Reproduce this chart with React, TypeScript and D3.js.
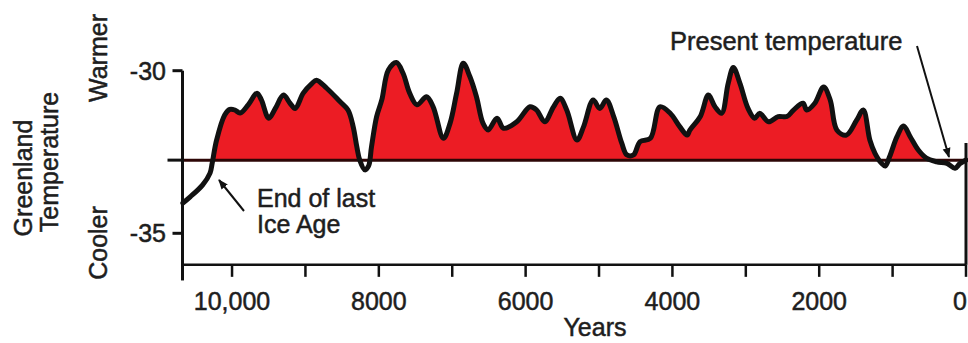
import React from "react";
import * as d3 from "d3";

// Years before present and Greenland temperature (°C)
const years = [
  10670, 10570, 10400, 10300, 10270, 10210, 10100, 10030, 9960, 9890,
  9780, 9660, 9600, 9500, 9410, 9300, 9210, 9140, 9030, 8910,
  8850, 8710, 8530, 8420, 8350, 8300, 8260, 8190, 8140, 8100,
  8030, 7960, 7870, 7760, 7670, 7580, 7480, 7350, 7260, 7120,
  7030, 6940, 6850, 6760, 6670, 6580, 6510, 6390, 6300, 6120,
  5940, 5850, 5740, 5620, 5530, 5440, 5300, 5210, 5080, 4990,
  4900, 4800, 4690, 4620, 4530, 4440, 4300, 4170, 4030, 3900,
  3800, 3760, 3620, 3510, 3420, 3330, 3240, 3170, 3080, 2970,
  2880, 2810, 2690, 2560, 2440, 2350, 2220, 2170, 2060, 1940,
  1850, 1760, 1630, 1490, 1400, 1310, 1240, 1150, 1100, 1040,
  940, 850, 760, 650, 540, 400, 260, 150, 80, 0,
];
const temps = [
  -34.07, -33.88, -33.51, -33.15, -32.84, -32.13, -31.36, -31.19, -31.21, -31.3,
  -31.05, -30.69, -30.9, -31.46, -31.16, -30.75, -31.0, -31.16, -30.69, -30.39,
  -30.29, -30.54, -30.95, -31.21, -31.72, -32.34, -32.75, -33.05, -32.93, -32.34,
  -31.41, -30.9, -29.98, -29.75, -30.08, -30.69, -31.05, -30.8, -31.11, -32.08,
  -31.62, -30.69, -29.77, -30.18, -30.8, -31.62, -31.82, -31.46, -31.77, -31.57,
  -31.11, -31.21, -31.57, -31.11, -30.85, -31.21, -32.13, -31.72, -30.9, -31.16,
  -30.9, -31.41, -32.23, -32.59, -32.59, -32.18, -32.08, -31.11, -31.31, -31.72,
  -31.98, -31.82, -31.41, -30.75, -31.11, -31.31, -30.39, -29.9, -30.39, -31.16,
  -31.46, -31.31, -31.57, -31.41, -31.41, -31.21, -31.0, -31.21, -31.0, -30.5,
  -30.9, -31.82, -31.98, -31.52, -31.21, -32.13, -32.54, -32.85, -32.93, -32.64,
  -32.03, -31.7, -32.03, -32.44, -32.69, -32.8, -32.85, -33.0, -32.85, -32.75,
];
const presentTemp = -32.75;
const xTickYears = [10000, 9000, 8000, 7000, 6000, 5000, 4000, 3000, 2000, 1000, 0];
const xLabelYears = [10000, 8000, 6000, 4000, 2000, 0];
const xLabels = ["10,000", "8000", "6000", "4000", "2000", "0"];
const yTickTemps = [-30, presentTemp, -35];
const yLabelTemps = [-30, -35];
const yLabels = ["-30", "-35"];

const W = 968;
const H = 343;
const FONT = "'Liberation Sans', Arial, Helvetica, sans-serif";

export default function App() {
  const x = d3.scaleLinear().domain([10675, 0]).range([182.5, 966]);
  const y = d3.scaleLinear().domain([-35, -30]).range([233.3, 70.7]);
  const data = years.map((yr, i) => ({ yr, t: temps[i] }));
  const baseY = y(presentTemp);
  const axisY = y(-35.97);

  const line = d3
    .line<{ yr: number; t: number }>()
    .x((d) => x(d.yr))
    .y((d) => y(d.t))
    .curve(d3.curveCatmullRom.alpha(0.5));
  const area = d3
    .area<{ yr: number; t: number }>()
    .x((d) => x(d.yr))
    .y0(baseY)
    .y1((d) => y(d.t))
    .curve(d3.curveCatmullRom.alpha(0.5));

  const tp = { fill: "#1e1e1e", stroke: "#1e1e1e", strokeWidth: 0.5 };

  return (
    <svg
      width={W}
      height={H}
      style={{ position: "absolute", left: 0, top: 0, background: "#fff" }}
      fontFamily={FONT}
    >
      <defs>
        <clipPath id="above">
          <rect x={0} y={0} width={W} height={baseY} />
        </clipPath>
        <marker id="ah" viewBox="0 0 10 10" refX="9" refY="5" markerWidth="5" markerHeight="5" orient="auto">
          <path d="M0,1 L10,5 L0,9 z" fill="#111" />
        </marker>
      </defs>

      {/* red fill above present temperature */}
      <path d={area(data) || ""} fill="#ec1c24" clipPath="url(#above)" />
      {/* present temperature baseline */}
      <line x1={x(10675)} x2={x(0)} y1={baseY} y2={baseY} stroke="#2d0606" strokeWidth={3} />
      {/* temperature curve */}
      <path d={line(data) || ""} fill="none" stroke="#111" strokeWidth={5} strokeLinejoin="round" strokeLinecap="round" />

      {/* y axis */}
      <line x1={x(10675)} x2={x(10675)} y1={y(-30)} y2={y(-36.45)} stroke="#111" strokeWidth={3} />
      {yTickTemps.map((t, i) => (
        <line key={i} x1={x(10675) - (i === 1 ? 15 : 10)} x2={x(10675)} y1={y(t)} y2={y(t)} stroke="#111" strokeWidth={3} />
      ))}
      {yLabelTemps.map((t, i) => (
        <text key={i} x={166} y={y(t)} dy="0.36em" textAnchor="end" fontSize={25} {...tp}>
          {yLabels[i]}
        </text>
      ))}

      {/* x axis */}
      <line x1={x(10675)} x2={x(0)} y1={axisY} y2={axisY} stroke="#111" strokeWidth={2.5} />
      <line x1={x(0)} x2={x(0)} y1={143} y2={axisY} stroke="#111" strokeWidth={3} />
      {xTickYears.map((yr) => (
        <line key={yr} x1={x(yr)} x2={x(yr)} y1={axisY} y2={axisY + 12} stroke="#111" strokeWidth={2.5} />
      ))}
      {xLabelYears.map((yr, i) => (
        <text key={yr} x={yr === 0 ? x(yr) - 6 : x(yr)} y={310} textAnchor="middle" fontSize={25} {...tp}>
          {xLabels[i]}
        </text>
      ))}
      <text x={595} y={336} textAnchor="middle" fontSize={25} {...tp}>
        Years
      </text>

      {/* left rotated labels */}
      <text transform="translate(107,58) rotate(-90)" textAnchor="middle" fontSize={25} {...tp}>Warmer</text>
      <text transform="translate(107,243) rotate(-90)" textAnchor="middle" fontSize={25} {...tp}>Cooler</text>
      <text transform="translate(32,178) rotate(-90)" textAnchor="middle" fontSize={25} {...tp}>Greenland</text>
      <text transform="translate(58,162) rotate(-90)" textAnchor="middle" fontSize={25} {...tp}>Temperature</text>

      {/* annotations */}
      <text x={257} y={207} fontSize={25} {...tp}>End of last</text>
      <text x={257} y={233} fontSize={25} {...tp}>Ice Age</text>
      <line x1={244} y1={211} x2={219} y2={180} stroke="#111" strokeWidth={2} markerEnd="url(#ah)" />

      <text x={670} y={50} fontSize={25.5} {...tp}>Present temperature</text>
      <line x1={917} y1={46} x2={949} y2={157} stroke="#111" strokeWidth={2} markerEnd="url(#ah)" />
    </svg>
  );
}
